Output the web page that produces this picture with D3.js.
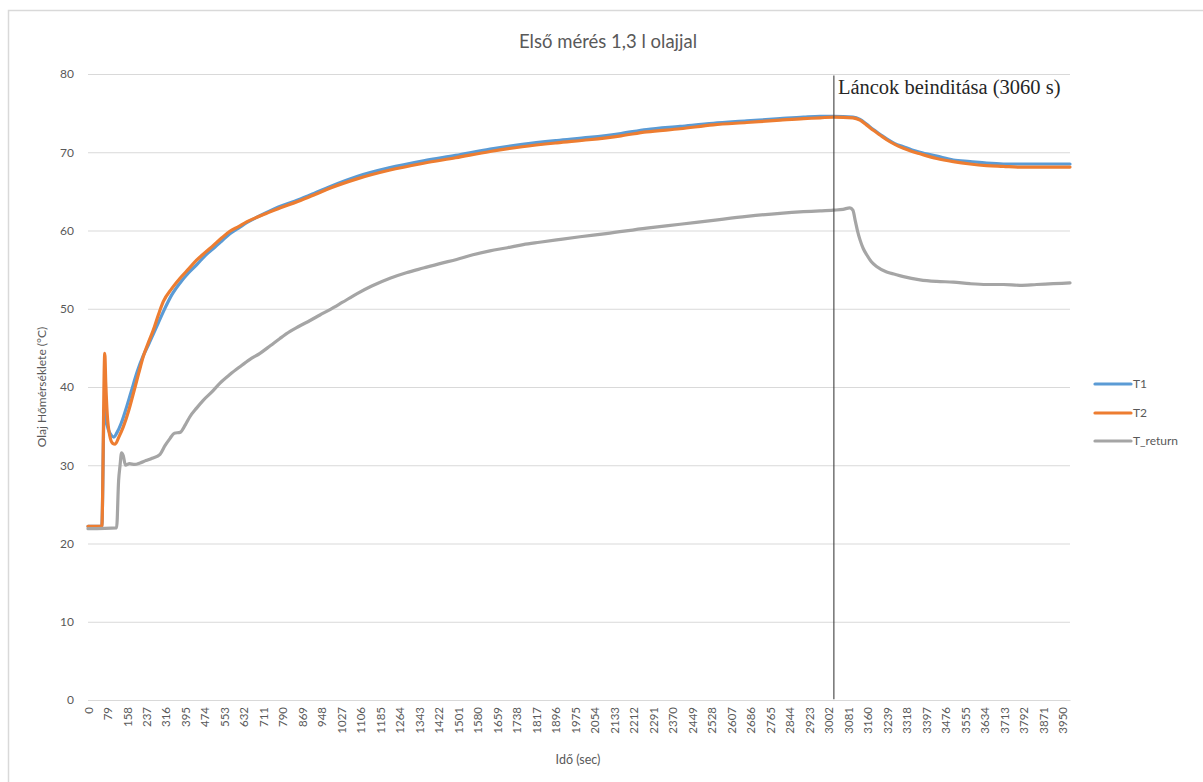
<!DOCTYPE html>
<html>
<head>
<meta charset="utf-8">
<script src="https://cdn.jsdelivr.net/npm/d3@7"></script>
<style>
  html, body { margin: 0; padding: 0; background: #fff; }
  svg { display: block; }
</style>
</head>
<body>
<svg id="chart" width="1203" height="782"></svg>
<script>
// ---- Data ----
const chartTitle = "Első mérés 1,3 l olajjal";
const xTitle = "Idő (sec)";
const yTitle = "Olaj Hőmérséklete (°C)";
const seriesNames = ["T1", "T2", "T_return"];

const xTickLabels = [0,79,158,237,316,395,474,553,632,711,790,869,948,1027,1106,1185,1264,1343,1422,1501,1580,1659,1738,1817,1896,1975,2054,2133,2212,2291,2370,2449,2528,2607,2686,2765,2844,2923,3002,3081,3160,3239,3318,3397,3476,3555,3634,3713,3792,3871,3950];
const yTickLabels = [0,10,20,30,40,50,60,70,80];
const xMax = 3980;

const annotationTime = 3023;
const annotationText = "Láncok beinditása (3060 s)";

const t1Time = [0,56,66,72,82,95,105,118,135,155,175,200,224,245,265,285,305,340,373,408,440,475,508,540,575,610,643,685,724,780,850,920,980,1090,1220,1360,1490,1630,1760,1900,2030,2160,2264,2400,2534,2670,2805,2900,2967,3021,3100,3129,3155,3183,3210,3237,3270,3305,3340,3372,3440,3507,3575,3642,3710,3777,3845,3912,3980];
const t1Temp = [22.2,22.2,37.5,36.0,34.6,33.8,33.6,34.2,35.4,37.3,39.4,42.0,44.0,45.4,46.8,48.2,49.6,51.8,53.3,54.6,55.6,56.8,57.7,58.6,59.6,60.3,61.0,61.7,62.3,63.1,63.9,64.8,65.6,66.9,68.0,68.9,69.6,70.4,71.0,71.5,71.9,72.4,72.9,73.3,73.7,74.0,74.3,74.5,74.6,74.6,74.5,74.2,73.6,72.9,72.3,71.7,71.1,70.7,70.3,70.0,69.5,69.0,68.8,68.6,68.5,68.5,68.5,68.5,68.5];

const t2Time = [0,56,68,72,78,88,100,110,125,143,165,184,205,224,245,265,285,305,340,373,408,440,475,508,540,575,610,643,685,724,780,850,920,980,1090,1220,1360,1490,1630,1760,1900,2030,2160,2264,2400,2534,2670,2805,2900,2967,3021,3100,3129,3155,3183,3210,3237,3270,3305,3340,3372,3440,3507,3575,3642,3710,3777,3845,3912,3980];
const t2Temp = [22.2,22.2,44.3,40.5,36.5,33.8,32.8,32.7,33.6,34.9,37.0,39.2,41.7,43.9,45.7,47.3,49.2,50.9,52.6,53.9,55.1,56.2,57.2,58.1,59.0,59.9,60.5,61.1,61.7,62.2,62.9,63.7,64.6,65.4,66.6,67.7,68.6,69.3,70.1,70.7,71.2,71.6,72.1,72.6,73.0,73.5,73.8,74.1,74.3,74.4,74.5,74.4,74.1,73.5,72.8,72.2,71.6,71.0,70.5,70.1,69.8,69.2,68.8,68.5,68.3,68.2,68.1,68.1,68.1,68.1];

const tRetTime = [0,116,124,130,136,143,152,168,190,211,235,260,292,312,332,350,373,395,413,440,467,500,535,575,616,655,697,740,778,819,852,900,940,981,1030,1089,1150,1224,1290,1359,1430,1494,1560,1629,1700,1764,1830,1899,1994,2100,2264,2400,2534,2670,2805,2900,2967,3021,3060,3088,3100,3110,3120,3129,3142,3156,3175,3196,3237,3270,3305,3372,3440,3507,3575,3642,3710,3777,3845,3912,3980];
const tRetTemp = [21.9,22.0,28.0,30.0,31.6,31.2,30.0,30.2,30.1,30.3,30.6,30.9,31.4,32.5,33.4,34.1,34.2,35.2,36.2,37.3,38.3,39.3,40.5,41.6,42.6,43.5,44.3,45.3,46.2,47.1,47.7,48.5,49.2,49.9,50.8,51.9,52.9,53.9,54.6,55.2,55.8,56.3,56.9,57.4,57.8,58.2,58.5,58.8,59.2,59.6,60.3,60.8,61.3,61.8,62.2,62.4,62.5,62.6,62.7,62.9,62.6,61.2,59.8,58.8,57.7,56.9,56.0,55.4,54.7,54.4,54.1,53.7,53.5,53.4,53.2,53.1,53.1,53.0,53.1,53.2,53.3];

const seriesColors = ["#5B9BD5", "#ED7D31", "#A5A5A5"];

// ---- Drawing ----
const svg = d3.select("#chart");
const font = "Lato, 'Open Sans', 'Liberation Sans', sans-serif";
const textColor = "#595959";
const gridColor = "#d9d9d9";

const plot = { left: 88, right: 1070, top: 74, bottom: 700 };

const x = d3.scaleLinear().domain([0, xMax]).range([plot.left, plot.right]);
const y = d3.scaleLinear().domain([0, 80]).range([plot.bottom, plot.top]);

// chart area border
svg.append("rect")
  .attr("x", 8.5).attr("y", 10.5)
  .attr("width", 1220).attr("height", 800)
  .attr("fill", "#fff").attr("stroke", "#d9d9d9").attr("stroke-width", 1.5);

// title
svg.append("text")
  .attr("x", 608).attr("y", 48)
  .attr("text-anchor", "middle")
  .attr("font-family", font).attr("font-size", 18.5)
  .attr("fill", textColor)
  .text(chartTitle);

// y axis with gridlines
const yAxis = d3.axisLeft(y).tickValues(yTickLabels).tickSize(-(plot.right - plot.left)).tickPadding(14);
const gy = svg.append("g").attr("transform", `translate(${plot.left},0)`).call(yAxis);
gy.select(".domain").remove();
gy.selectAll(".tick line").attr("stroke", gridColor).attr("stroke-width", 1);
gy.selectAll(".tick text").attr("fill", textColor).attr("font-family", font).attr("font-size", 12);

// x axis
const xAxis = d3.axisBottom(x).tickValues(xTickLabels).tickFormat(d3.format("d")).tickSize(0).tickPadding(0);
const gx = svg.append("g").attr("transform", `translate(0,${plot.bottom})`).call(xAxis);
gx.select(".domain").attr("stroke", gridColor).attr("stroke-width", 1);
gx.selectAll(".tick text")
  .attr("fill", textColor).attr("font-family", font).attr("font-size", 11.5)
  .attr("text-anchor", "end")
  .attr("dy", "0.35em")
  .attr("transform", "translate(0,7) rotate(-90)")
  .attr("x", 0).attr("y", 0);

// axis titles
svg.append("text")
  .attr("transform", `translate(42,${(plot.top + plot.bottom) / 2}) rotate(-90)`)
  .attr("text-anchor", "middle").attr("dy", "0.35em")
  .attr("font-family", font).attr("font-size", 12).attr("fill", textColor)
  .text(yTitle);
svg.append("text")
  .attr("x", 578).attr("y", 764)
  .attr("text-anchor", "middle")
  .attr("font-family", font).attr("font-size", 12.5).attr("fill", textColor)
  .text(xTitle);

// series
const seriesData = [
  d3.zip(t1Time, t1Temp),
  d3.zip(t2Time, t2Temp),
  d3.zip(tRetTime, tRetTemp)
];
const line = d3.line().x(d => x(d[0])).y(d => y(d[1])).curve(d3.curveMonotoneX);
seriesData.forEach((data, i) => {
  svg.append("path")
    .datum(data)
    .attr("fill", "none")
    .attr("stroke", seriesColors[i])
    .attr("stroke-width", 3.2)
    .attr("stroke-linejoin", "round")
    .attr("stroke-linecap", "round")
    .attr("d", line);
});

// annotation line + text
svg.append("line")
  .attr("x1", x(annotationTime)).attr("x2", x(annotationTime))
  .attr("y1", y(79.8)).attr("y2", y(0.1))
  .attr("stroke", "#404040").attr("stroke-width", 1.1);
svg.append("text")
  .attr("x", x(annotationTime) + 4).attr("y", 94)
  .attr("font-family", "'Liberation Serif', 'Times New Roman', serif")
  .attr("font-size", 20.5).attr("fill", "#262626")
  .text(annotationText);

// legend
const legend = svg.append("g");
const legendY = [384, 413, 441];
seriesNames.forEach((name, i) => {
  legend.append("line")
    .attr("x1", 1095).attr("x2", 1131)
    .attr("y1", legendY[i]).attr("y2", legendY[i])
    .attr("stroke", seriesColors[i]).attr("stroke-width", 3.2)
    .attr("stroke-linecap", "round");
  legend.append("text")
    .attr("x", 1133).attr("y", legendY[i]).attr("dy", "0.35em")
    .attr("font-family", font).attr("font-size", 12).attr("fill", textColor)
    .text(name);
});
</script>
</body>
</html>
